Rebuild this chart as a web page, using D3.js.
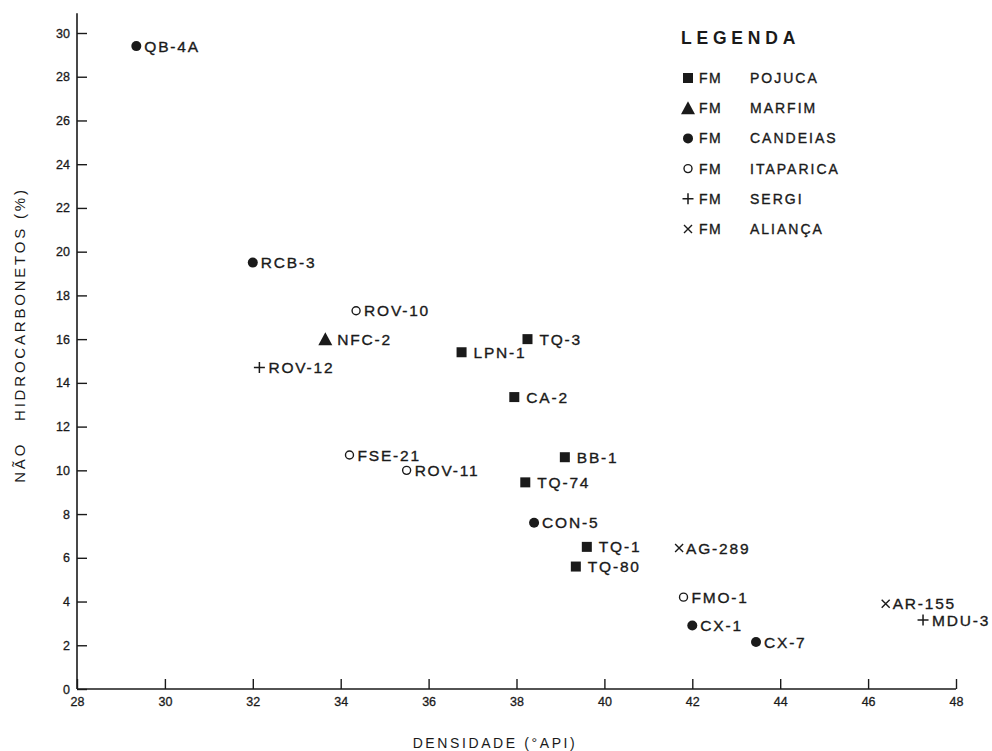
<!DOCTYPE html>
<html>
<head>
<meta charset="utf-8">
<script src="https://cdn.jsdelivr.net/npm/d3@7"></script>
<style>
  body { margin: 0; background: #fff; }
  svg text { font-family: "Liberation Sans", Arial, sans-serif; fill: #1a1a1a; }
</style>
</head>
<body>
<div id="chart"></div>
<script>
// poços, densidade (°API) e % de não hidrocarbonetos
const wells  = ["QB-4A", "RCB-3", "ROV-10", "NFC-2", "ROV-12", "LPN-1", "TQ-3", "CA-2",
                "FSE-21", "ROV-11", "BB-1", "TQ-74", "CON-5", "TQ-1", "TQ-80", "AG-289",
                "FMO-1", "CX-1", "CX-7", "AR-155", "MDU-3"];
const api    = [29.35, 32.0, 34.35, 33.65, 32.15, 36.75, 38.25, 37.95,
                34.2, 35.5, 39.1, 38.2, 38.4, 39.6, 39.35, 41.7,
                41.8, 42.0, 43.45, 46.4, 47.25];
const nonHC  = [29.4, 19.5, 17.3, 16.0, 14.7, 15.4, 16.0, 13.35,
                10.7, 10.0, 10.6, 9.45, 7.6, 6.5, 5.6, 6.45,
                4.2, 2.9, 2.15, 3.9, 3.15];
const formation = ["CANDEIAS", "CANDEIAS", "ITAPARICA", "MARFIM", "SERGI", "POJUCA", "POJUCA", "POJUCA",
                   "ITAPARICA", "ITAPARICA", "POJUCA", "POJUCA", "CANDEIAS", "POJUCA", "POJUCA", "ALIANÇA",
                   "ITAPARICA", "CANDEIAS", "CANDEIAS", "ALIANÇA", "SERGI"];

const legendNames = ["POJUCA", "MARFIM", "CANDEIAS", "ITAPARICA", "SERGI", "ALIANÇA"];
const xTicks = [28, 30, 32, 34, 36, 38, 40, 42, 44, 46, 48];
const yTicks = [0, 2, 4, 6, 8, 10, 12, 14, 16, 18, 20, 22, 24, 26, 28, 30];

const width = 992, height = 751;
const ink = "#1a1a1a";

const svg = d3.select("#chart").append("svg")
    .attr("width", width)
    .attr("height", height);

const x = d3.scaleLinear().domain([28, 48]).range([77, 956]);
const y = d3.scaleLinear().domain([0, 30]).range([689, 33]);

// marker shape per formation
const shapes = {
    "POJUCA":    { kind: "square",   gap: 12 },
    "MARFIM":    { kind: "triangle", gap: 12 },
    "CANDEIAS":  { kind: "dot",      gap: 8 },
    "ITAPARICA": { kind: "ring",     gap: 8 },
    "SERGI":     { kind: "plus",     gap: 9 },
    "ALIANÇA":   { kind: "times",    gap: 7 }
};

function drawMarker(g, kind) {
    if (kind === "square") {
        g.append("rect").attr("x", -5).attr("y", -5).attr("width", 10).attr("height", 10).attr("fill", ink);
    } else if (kind === "triangle") {
        g.append("path").attr("d", "M0,-7 L7,6 L-7,6 Z").attr("fill", ink);
    } else if (kind === "dot") {
        g.append("circle").attr("r", 5).attr("fill", ink);
    } else if (kind === "ring") {
        g.append("circle").attr("r", 4).attr("fill", "none").attr("stroke", ink).attr("stroke-width", 1.4);
    } else if (kind === "plus") {
        g.append("path").attr("d", "M-5.5,0 H5.5 M0,-5.5 V5.5").attr("stroke", ink).attr("stroke-width", 1.5);
    } else if (kind === "times") {
        g.append("path").attr("d", "M-4,-4 L4,4 M-4,4 L4,-4").attr("stroke", ink).attr("stroke-width", 1.4);
    }
}

// lettering a bit heavier, like the stencil in the scan
function heavy(sel, w) {
    return sel.attr("stroke", ink).attr("stroke-width", w || 0.35);
}

// axes
const xAxis = d3.axisBottom(x).tickValues(xTicks).tickSize(-10).tickPadding(8);
const yAxis = d3.axisLeft(y).tickValues(yTicks).tickSize(-10).tickPadding(7);

const gx = svg.append("g").attr("transform", `translate(0,${y(0)})`).call(xAxis);
const gy = svg.append("g").attr("transform", `translate(${x(28)},0)`).call(yAxis);

[gx, gy].forEach(g => {
    g.select(".domain").remove();
    g.selectAll(".tick line").attr("stroke", ink).attr("stroke-width", 1.4);
    heavy(g.selectAll(".tick text").attr("font-size", 12.5).attr("fill", ink), 0.3);
});

svg.append("line")
    .attr("x1", x(28)).attr("x2", x(48))
    .attr("y1", y(0)).attr("y2", y(0))
    .attr("stroke", ink).attr("stroke-width", 1.6);
svg.append("line")
    .attr("x1", x(28)).attr("x2", x(28))
    .attr("y1", y(0)).attr("y2", y(30.9))
    .attr("stroke", ink).attr("stroke-width", 1.6);

// axis titles
svg.append("text")
    .attr("x", 495).attr("y", 748)
    .attr("text-anchor", "middle")
    .attr("font-size", 14)
    .attr("letter-spacing", 2.6)
    .text("DENSIDADE (°API)");

svg.append("text")
    .attr("transform", "translate(25,335) rotate(-90)")
    .attr("text-anchor", "middle")
    .attr("font-size", 15)
    .attr("letter-spacing", 2.8)
    .attr("xml:space", "preserve")
    .text("NÃO   HIDROCARBONETOS (%)");

// points
const pts = svg.append("g").selectAll("g.pt")
    .data(wells.map((w, i) => ({ well: w, api: api[i], nh: nonHC[i], fm: formation[i] })))
    .join("g")
    .attr("class", "pt")
    .attr("transform", d => `translate(${x(d.api)},${y(d.nh)})`);

pts.each(function(d) { drawMarker(d3.select(this), shapes[d.fm].kind); });

heavy(pts.append("text")
    .attr("x", d => shapes[d.fm].gap)
    .attr("dy", "0.36em")
    .attr("font-size", 15.5)
    .attr("letter-spacing", 1.8)
    .text(d => d.well));

// legend
const legend = svg.append("g").attr("transform", "translate(681,0)");
legend.append("text")
    .attr("x", 0).attr("y", 44)
    .attr("font-size", 17.5)
    .attr("font-weight", "bold")
    .attr("letter-spacing", 4.8)
    .text("LEGENDA");

const rowY = d3.scalePoint().domain(legendNames).range([78, 229]);
const rows = legend.selectAll("g.row")
    .data(legendNames)
    .join("g")
    .attr("class", "row")
    .attr("transform", d => `translate(7,${rowY(d)})`);

rows.each(function(d) { drawMarker(d3.select(this), shapes[d].kind); });
heavy(rows.append("text")
    .attr("x", 11).attr("dy", "0.36em")
    .attr("font-size", 14).attr("letter-spacing", 1.5)
    .text("FM"));
heavy(rows.append("text")
    .attr("x", 62).attr("dy", "0.36em")
    .attr("font-size", 14).attr("letter-spacing", 2)
    .text(d => d));
</script>
</body>
</html>
